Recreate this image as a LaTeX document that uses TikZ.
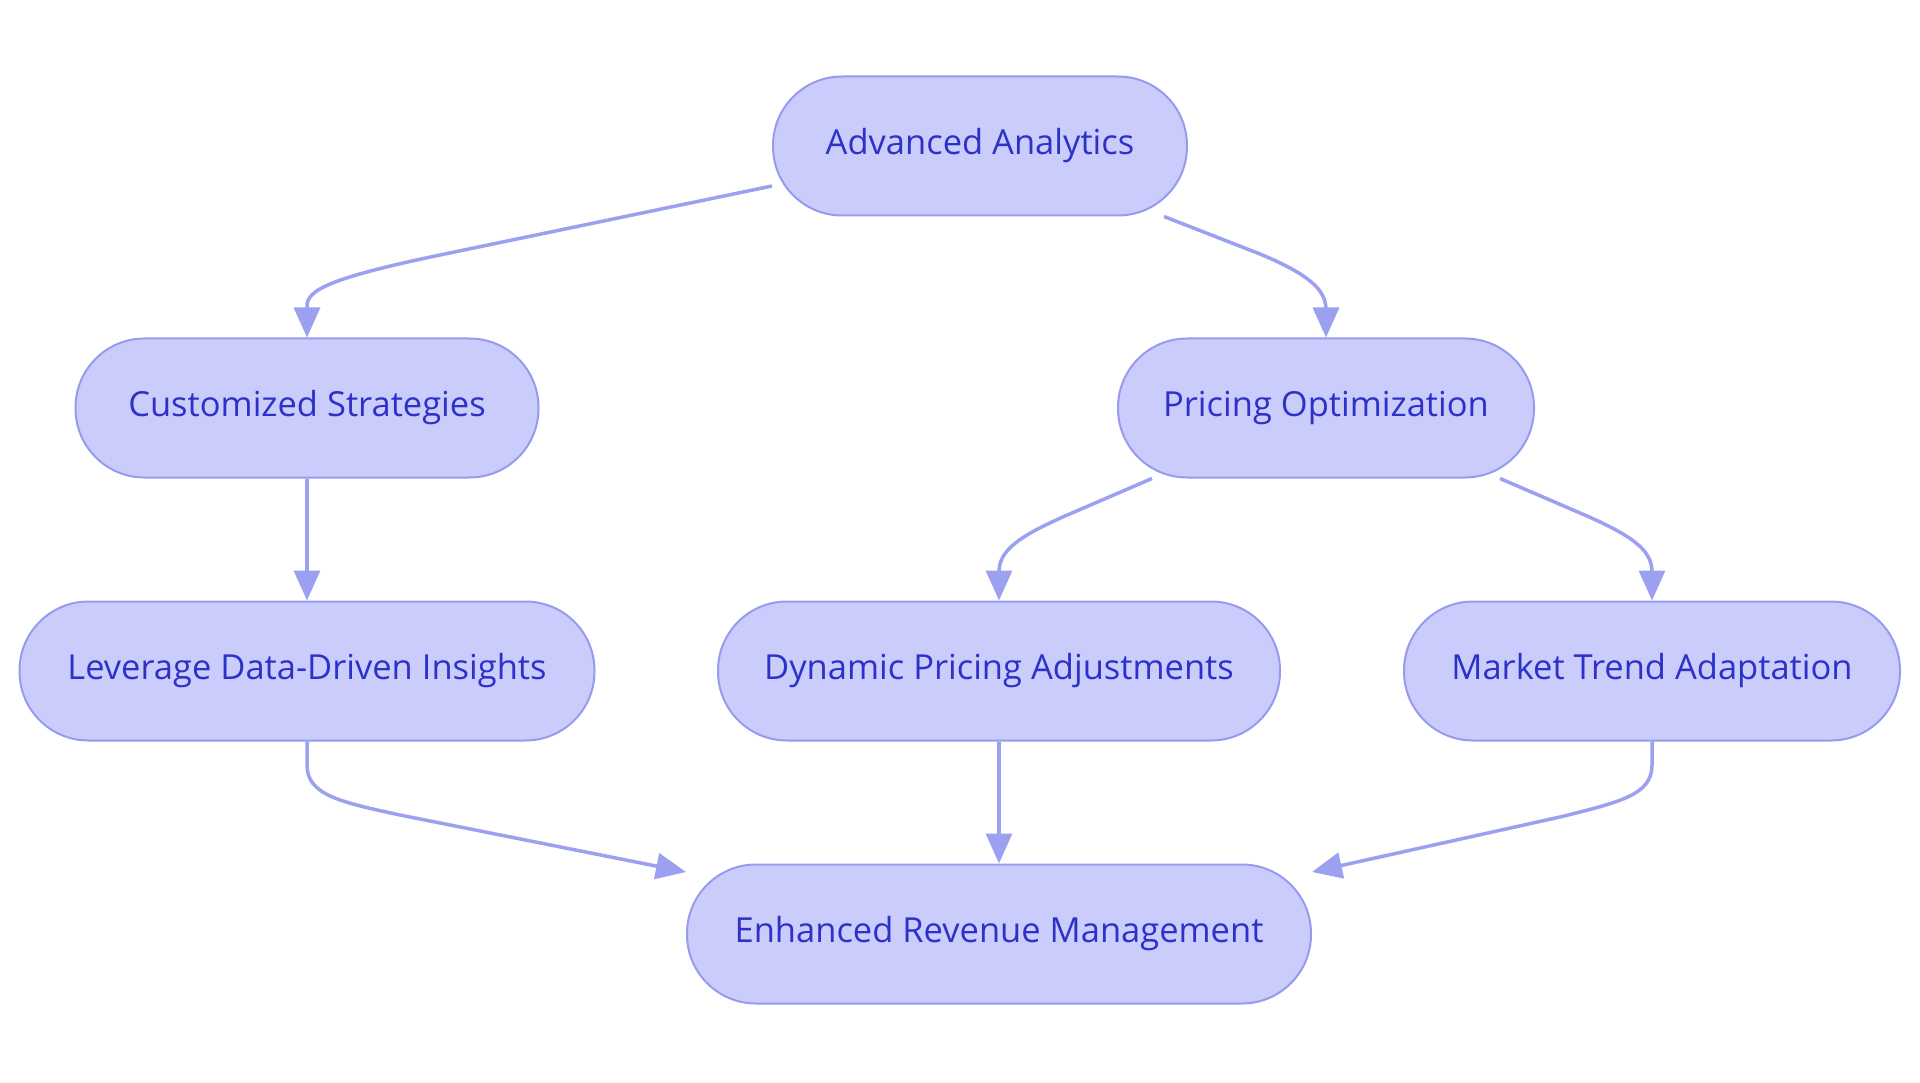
\documentclass[tikz,border=0pt]{standalone}
\usepackage{fontspec}
\setmainfont{Open Sans}
\usetikzlibrary{positioning,calc,arrows.meta}
\definecolor{boxfill}{RGB}{202,204,252}
\definecolor{boxline}{RGB}{150,155,238}
\definecolor{boxtext}{RGB}{44,50,200}
\definecolor{flowline}{RGB}{156,160,240}

\begin{document}
\begin{tikzpicture}[x=1pt,y=-1pt]
                    \tikzstyle{every node}=[fill=boxfill,draw=boxline,line width=2,rectangle,rounded corners=69,minimum height=139,inner sep=0,text=boxtext,font=\fontsize{34.5}{40}\selectfont]
                    \tikzstyle{flow}=[draw=flowline,line width=3.5,-{Triangle[length=30,width=26]}]
                    \useasboundingbox (0,0) rectangle (1920,1083);
                    {
                        \node[minimum width=414] (aa) at (980,146) {Advanced Analytics};
                        \node[minimum width=463] (cs) at (307,408) {Customized Strategies};
                        \node[minimum width=416] (po) at (1326,408) {Pricing Optimization};
                        \node[minimum width=575] (ldi) at (307,671) {Leverage Data-Driven Insights};
                        \node[minimum width=562] (dpa) at (999,671) {Dynamic Pricing Adjustments};
                        \node[minimum width=496] (mta) at (1652,671) {Market Trend Adaptation};
                        \node[minimum width=624] (erm) at (999,934) {Enhanced Revenue Management};
                    }
                    \draw[flow] ($(aa.west)+(0,40)$) -- (440,255) .. controls (330,278) and (307,290) .. (307,306) -- (cs.north);
                    \draw[flow] ($(aa.south east)+(-24,0)$) -- (1260,254) .. controls (1310,275) and (1326,290) .. (1326,310) -- (po.north);
                    \draw[flow] (cs.south) -- (ldi.north);
                    \draw[flow] ($(po.south west)+(35,0)$) -- (1065,516) .. controls (1020,536) and (999,550) .. (999,572) -- (dpa.north);
                    \draw[flow] ($(po.south east)+(-35,0)$) -- (1587,516) .. controls (1632,536) and (1652,550) .. (1652,572) -- (mta.north);
                    \draw[flow] (ldi.south) -- (307,765) .. controls (307,795) and (340,802) .. (400,815) -- ($(erm.west)+(0,-62)$);
                    \draw[flow] (dpa.south) -- (erm.north);
                    \draw[flow] (mta.south) -- (1652,765) .. controls (1652,795) and (1620,802) .. (1560,817) -- ($(erm.east)+(0,-62)$);
                \end{tikzpicture}
\end{document}
